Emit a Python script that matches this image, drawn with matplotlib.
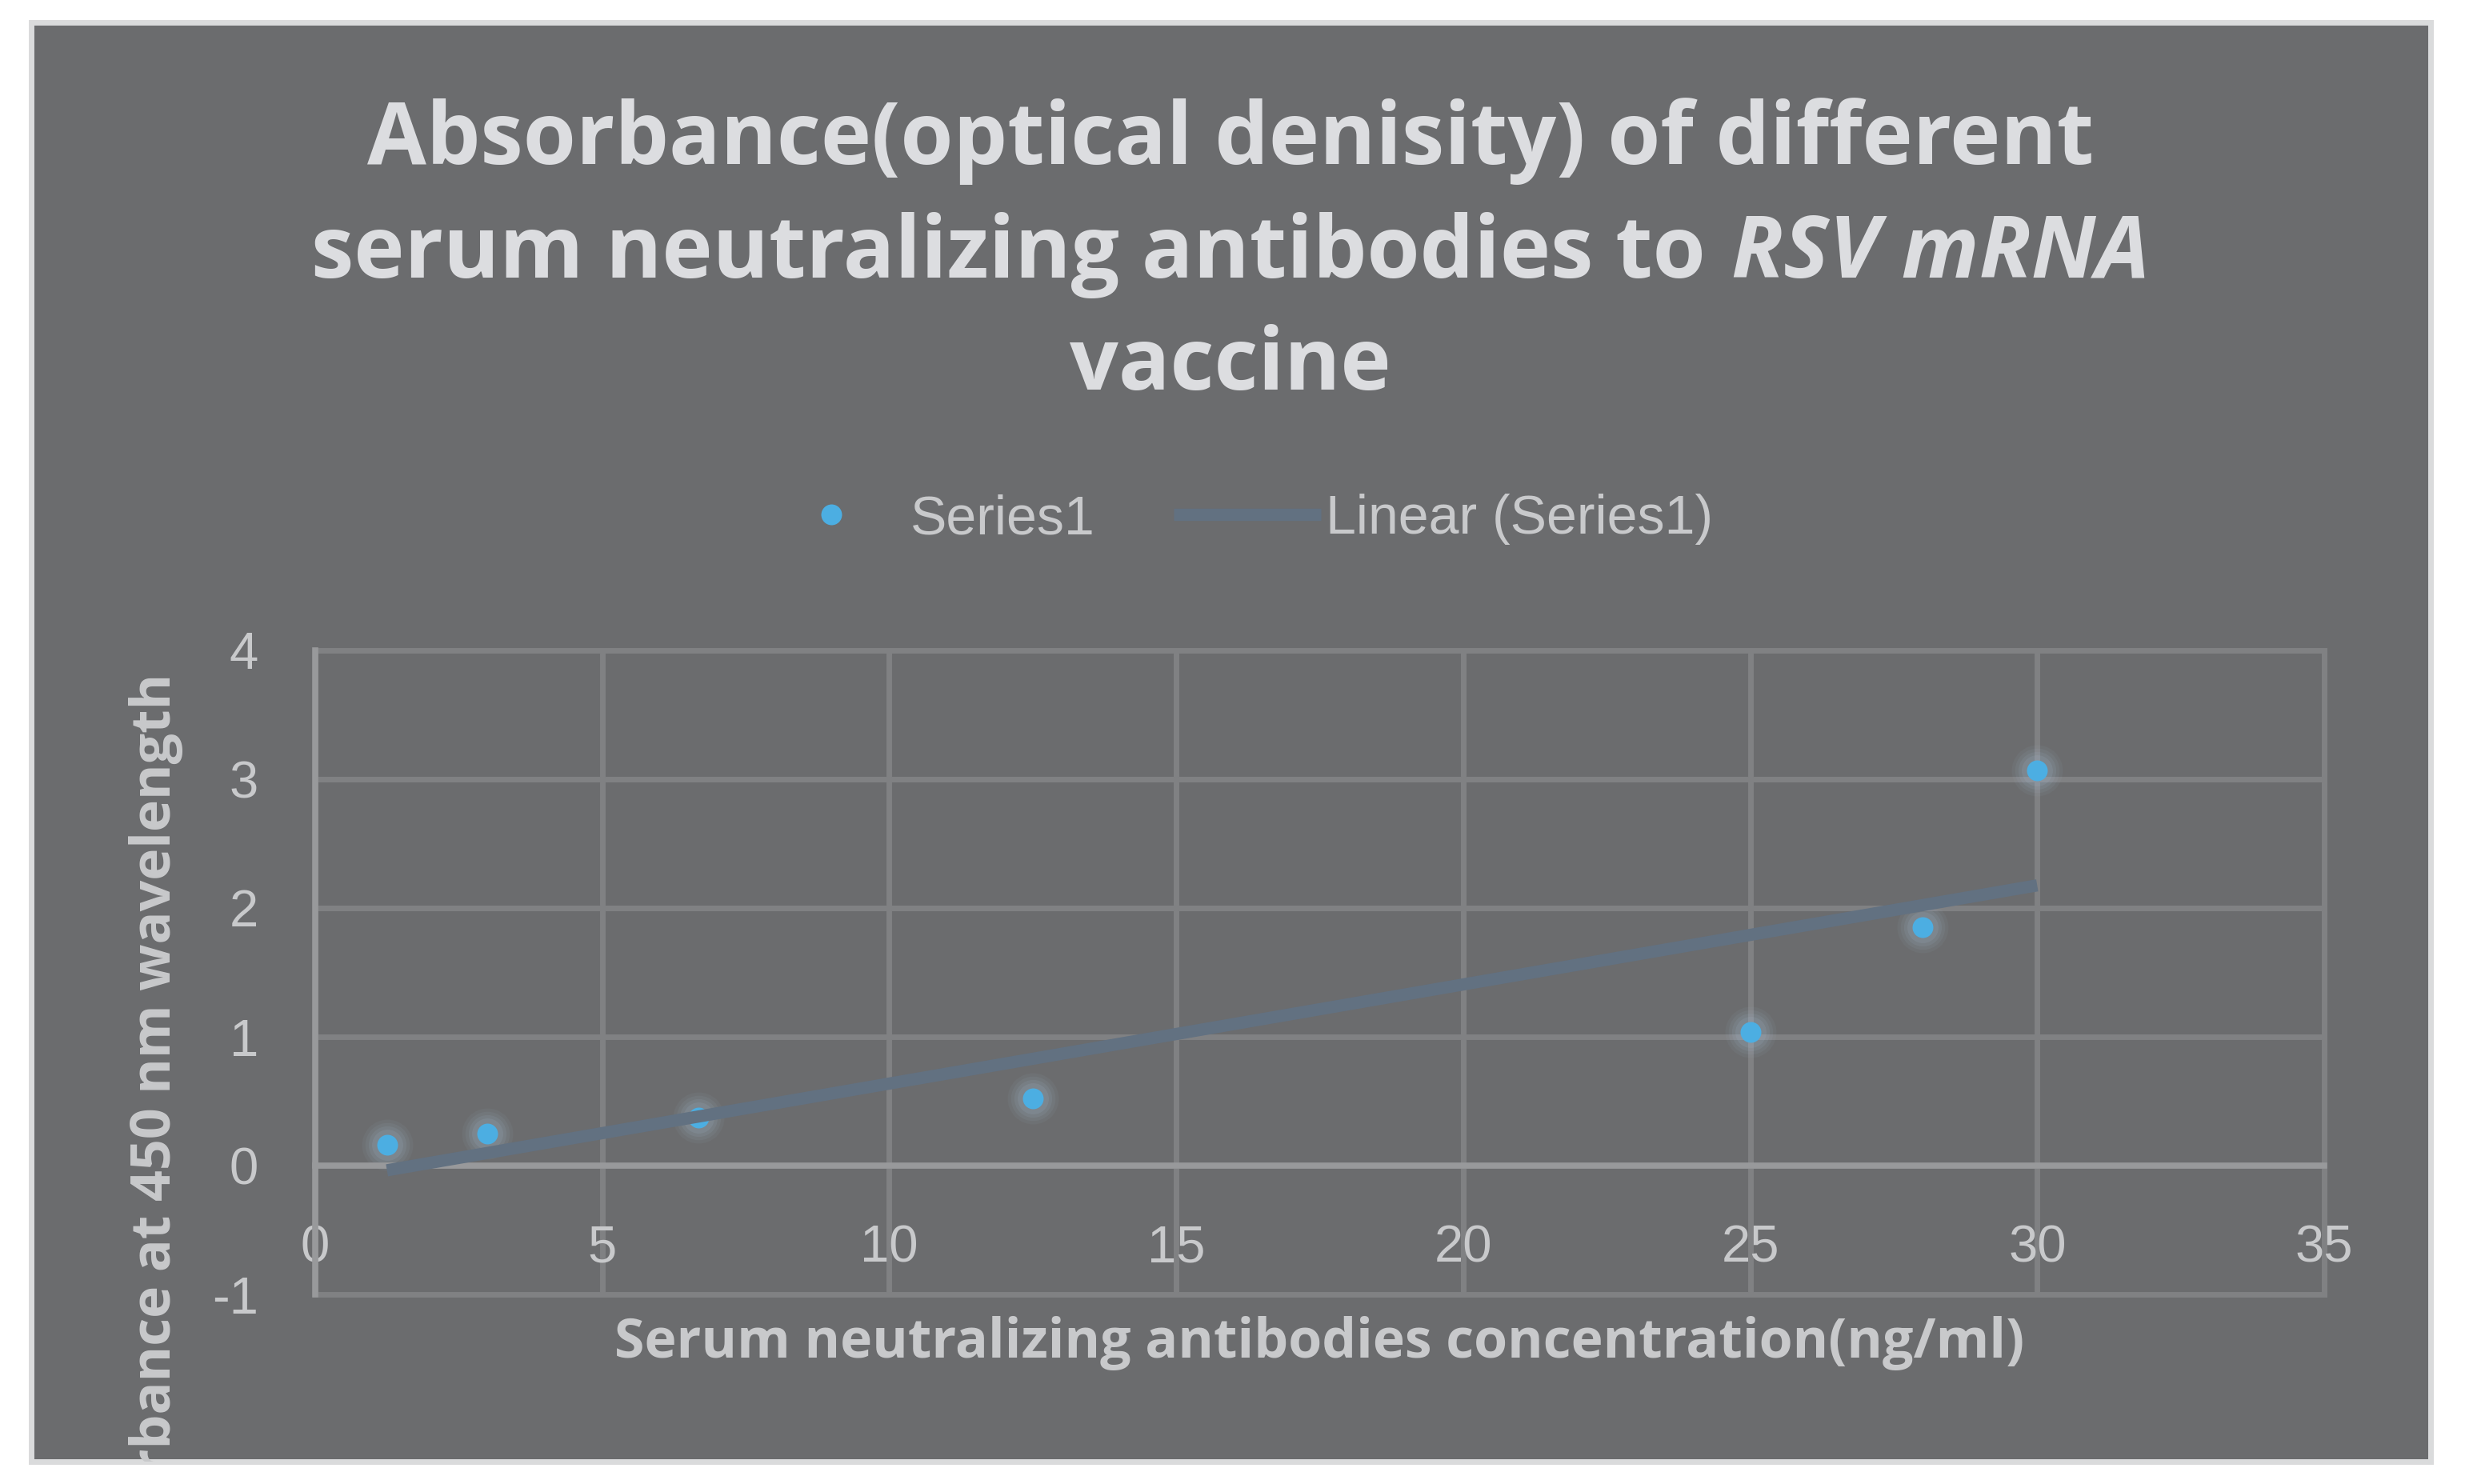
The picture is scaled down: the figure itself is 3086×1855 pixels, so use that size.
import numpy as np
import matplotlib
matplotlib.use('Agg')
import matplotlib.pyplot as plt
from matplotlib.patches import Rectangle

# ---------------- data ----------------
concentration = [1.25, 3, 6.67, 12.5, 25, 28, 30]
absorbance = [0.16, 0.25, 0.37, 0.52, 1.04, 1.85, 3.07]
x_ticks = [0, 5, 10, 15, 20, 25, 30, 35]
y_ticks = [-1, 0, 1, 2, 3, 4]
series_label = 'Series1'
trend_label = 'Linear (Series1)'
title_line1 = 'Absorbance(optical denisity) of different'
title_line2a = 'serum neutralizing antibodies to'
title_line2b = 'RSV mRNA'
title_line3 = 'vaccine'
x_label = 'Serum neutralizing antibodies concentration(ng/ml)'
y_label = 'Absorbance at 450 nm wavelength'

plt.rcParams['font.family'] = ['Liberation Sans', 'DejaVu Sans']
plt.rcParams['axes.unicode_minus'] = False

W, H = 3086, 1855
DPI = 100
fig = plt.figure(figsize=(W / DPI, H / DPI), dpi=DPI, facecolor='white')

BG = '#6b6c6e'
TXT = '#c8c9cb'
TITLE_C = '#dcdde0'
TITLE_FONT = ['Open Sans', 'DejaVu Sans']

chart = Rectangle((39 / W, (H - 1827) / H), (3038 - 39) / W, (1827 - 28) / H,
                  transform=fig.transFigure, facecolor=BG, edgecolor='#dadbdc',
                  linewidth=5, zorder=-10)
fig.patches.append(chart)

ax = fig.add_axes([394 / W, (H - 1618) / H, (2905 - 394) / W, (1618 - 813) / H])
ax.set_zorder(1)
ax.set_facecolor('none')
ax.set_xlim(0, 35)
ax.set_ylim(-1, 4)
ax.set_xticks(x_ticks)
ax.set_yticks(y_ticks)
ax.set_axisbelow(True)
ax.grid(True, color='#808183', linewidth=5, clip_on=False)
for s in ['top', 'right']:
    ax.spines[s].set_visible(False)
ax.spines['bottom'].set_position(('data', 0))
for s in ['bottom', 'left']:
    ax.spines[s].set_color('#98999b')
    ax.spines[s].set_linewidth(5.5)
ax.tick_params(length=0, labelsize=47, labelcolor=TXT)
ax.tick_params(axis='x', pad=53)
ax.tick_params(axis='y', pad=51)

# glow around markers
for ms, a in [(46, 0.06), (40, 0.08), (34, 0.10), (28, 0.13)]:
    ax.plot(concentration, absorbance, 'o', ms=ms, color='#a9c2d8', alpha=a,
            mec='none', zorder=2, label='_nolegend_')
pts, = ax.plot(concentration, absorbance, 'o', ms=18.7, color='#4caee2',
               mec='none', zorder=3, label=series_label)

slope, intercept = np.polyfit(concentration, absorbance, 1)
xs = np.array([min(concentration), max(concentration)])
trend, = ax.plot(xs, slope * xs + intercept, color='#627181', lw=11,
                 solid_capstyle='butt', zorder=4, label=trend_label)

fig.legend(handles=[pts, trend], loc='center', bbox_to_anchor=(0.5005, 0.6501),
           ncol=2, frameon=False, fontsize=49, handlelength=2.7,
           handletextpad=0.1, columnspacing=1.44, labelcolor=TXT, numpoints=1)

# axis labels
ax.set_xlabel(x_label, fontsize=49, fontweight='bold', family=TITLE_FONT, color=TXT)
ax.xaxis.set_label_coords(0.5, (1618 - 1679) / 805)
ax.xaxis.label.set_va('center')

ax.set_ylabel(y_label, fontsize=49, fontweight='bold', family=TITLE_FONT, color=TXT)
ax.yaxis.set_label_coords((213 - 394) / 2511, (1618 - 842) / 805)
yl = ax.yaxis.label
yl.set_rotation_mode('anchor')
yl.set_ha('right')
yl.set_va('baseline')
yl.set_clip_path(chart)
yl.set_clip_on(True)

# title
cx = 1538
tkw = dict(fontsize=77, fontweight='bold', family=TITLE_FONT, color=TITLE_C, va='center')
fig.text(cx / W, 1 - 177 / H, title_line1, ha='center', **tkw)
fig.text(cx / W, 1 - 459 / H, title_line3, ha='center', **tkw)
ta = fig.text(0, 1 - 319 / H, title_line2a, ha='left', **tkw)
tb = fig.text(0, 1 - 319 / H, title_line2b, ha='left', style='italic', **tkw)
r = fig.canvas.get_renderer()
wa = ta.get_window_extent(r).width
wb = tb.get_window_extent(r).width
gap = 32
x0 = cx - (wa + gap + wb) / 2
ta.set_x(x0 / W)
tb.set_x((x0 + wa + gap) / W)

fig.savefig('out.png', dpi=DPI, facecolor='white')
